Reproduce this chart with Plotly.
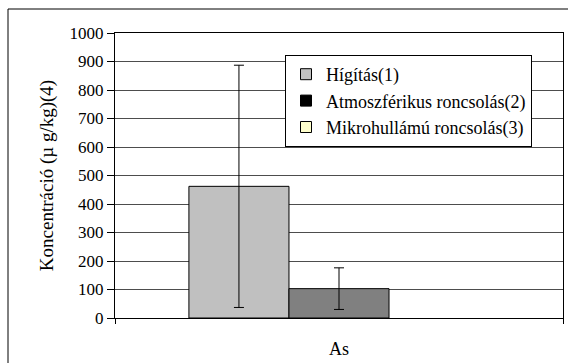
import plotly.graph_objects as go

categories = ["As"]
series_names = ["Hígítás(1)", "Atmoszférikus roncsolás(2)", "Mikrohullámú roncsolás(3)"]
values = [[462], [103], [None]]
errors = [[425], [73], [None]]
bar_colors = ["#C0C0C0", "#808080", "#FFFFCC"]
legend_colors = ["#C0C0C0", "#000000", "#FFFFCC"]
y_ticks = list(range(0, 1001, 100))
y_title = "Koncentráció (µ g/kg)(4)"

FONT = "Liberation Serif"

fig = go.Figure()
for name, v, e, c in zip(series_names, values, errors, bar_colors):
    fig.add_trace(go.Bar(
        x=categories, y=v, name=name, showlegend=False,
        marker=dict(color=c, line=dict(color="black", width=1)),
        error_y=dict(type="data", array=e, visible=True,
                     color="black", thickness=1, width=5),
    ))
for name, c in zip(series_names, legend_colors):
    fig.add_trace(go.Scatter(
        x=[None], y=[None], mode="markers", name=name,
        marker=dict(symbol="square", size=11, color=c, line=dict(color="black", width=1)),
    ))

W, H = 568, 363
L, R, T, B = 115, 5, 33, 45
pw, ph = W - L - R, H - T - B

def px(x):
    return (x - L) / pw

def py(y):
    return (H - B - y) / ph

fig.update_layout(
    width=W, height=H,
    margin=dict(l=L, r=R, t=T, b=B),
    paper_bgcolor="white", plot_bgcolor="white",
    barmode="group", bargap=0.33, bargroupgap=0,
    font=dict(family=FONT, size=18, color="black"),
    showlegend=True,
    legend=dict(x=px(285), y=py(55), xanchor="left", yanchor="top",
                bgcolor="white", bordercolor="black", borderwidth=1,
                font=dict(family=FONT, size=18), tracegroupgap=0,
                itemwidth=30),
    shapes=[dict(type="rect", xref="paper", yref="paper",
                 x0=px(8), x1=px(575), y0=py(9), y1=py(380),
                 line=dict(color="black", width=1), fillcolor="rgba(0,0,0,0)",
                 layer="below")],
)
fig.update_yaxes(
    range=[0, 1000], tickvals=y_ticks, ticks="outside", ticklen=7,
    tickcolor="black", showline=True, linecolor="black", linewidth=1, mirror=True,
    showgrid=True, gridcolor="#4d4d4d", gridwidth=1, zeroline=False,
    tickfont=dict(family=FONT, size=17),
    title=dict(text=y_title, font=dict(family=FONT, size=19), standoff=10),
)
fig.update_xaxes(
    ticks="outside", tickson="boundaries", ticklen=5, tickcolor="black",
    showline=True, linecolor="black", linewidth=1, mirror=True,
    showgrid=False, tickfont=dict(family=FONT, size=18),
    ticklabelstandoff=14,
)
fig.write_html("out.html", config={"displayModeBar": False},
               post_script="document.body.style.margin='0px';")
